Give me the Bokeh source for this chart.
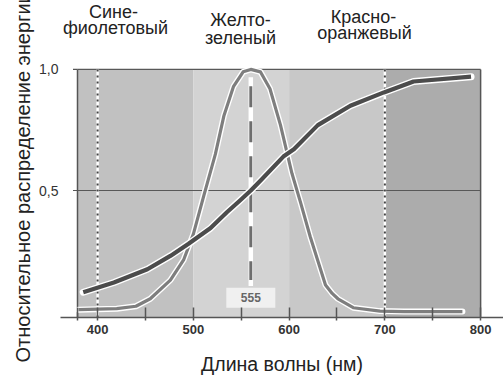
import math
from bokeh.plotting import figure
from bokeh.models import Label, FixedTicker, Range1d, CustomJSTickFormatter, Title
from bokeh.embed import file_html
from bokeh.resources import INLINE

# ---------------- data ----------------
# relative luminous efficiency (bell curve)
lum_wl = [380, 400, 420, 440, 455, 476, 490, 500, 511, 523, 532, 542, 552, 560,
          570, 580, 591, 603, 612, 622, 638, 645, 651, 667, 695, 720, 781]
lum_v = [0.008, 0.01, 0.012, 0.022, 0.053, 0.13, 0.215, 0.32, 0.48, 0.65, 0.81, 0.93, 0.99, 1.0,
         0.99, 0.92, 0.77, 0.57, 0.45, 0.31, 0.11, 0.075, 0.053, 0.016, 0.002, 0.0, 0.0]
# rising energy-distribution curve
cum_wl = [385, 417, 452, 476, 495, 518, 535, 549, 560, 570, 594, 605, 630, 664, 699, 730, 790]
cum_v = [0.08, 0.12, 0.175, 0.23, 0.28, 0.345, 0.41, 0.46, 0.50, 0.54, 0.64, 0.67, 0.77, 0.85,
         0.905, 0.95, 0.97]
# spectral bands
band_left = [379, 500, 600, 700]
band_right = [500, 600, 700, 800]
band_colors = ["#c1c1c1", "#d3d3d3", "#c8c8c8", "#acacac"]
# reference lines
dotted_wl = [400, 700]
peak_wl = 560
peak_label = "555"
x_ticks = [400, 500, 600, 700, 800]
x_minor = [379, 450, 550, 650, 750]
y_ticks = [0.5, 1.0]
region_names = [("Сине-", "фиолетовый"), ("Желто-", "зеленый"), ("Красно-", "оранжевый")]
x_title = "Длина волны (нм)"
y_title = "Относительное распределение энергии"

# ---------------- layout helpers (page pixels; the page has no margin) ----------------
W, H = 503, 377
KX = 0.9575                       # px per nm
AXIS_PX = 77                      # page x of the left axis rule
FL, FT, FW, FH = 60, 0, 443, 322  # frame in page pixels
X0 = band_left[0] - (AXIS_PX - FL) / KX
X1 = X0 + FW / KX
PX_PER_UNIT = 246.0
ZERO_PY = 316
Y0 = (ZERO_PY - (FT + FH)) / PX_PER_UNIT
Y1 = (ZERO_PY - FT) / PX_PER_UNIT
YTOP = 1.0


def px2x(px):
    return X0 + (px - FL) / KX


def py2y(py):
    return (ZERO_PY - py) / PX_PER_UNIT


FONT = "Liberation Sans"

p = figure(width=W, height=H, output_backend="svg", toolbar_location=None,
           x_range=Range1d(X0, X1), y_range=Range1d(Y0, Y1),
           min_border_left=FL, min_border_right=W - FL - FW,
           min_border_top=FT, min_border_bottom=H - FT - FH)
p.outline_line_color = None
p.background_fill_color = "white"
p.border_fill_color = "white"
p.xgrid.visible = False
p.ygrid.visible = False

# bands
p.quad(left=band_left, right=band_right, bottom=Y0, top=YTOP, fill_color=band_colors,
       line_color=None)

# horizontal reference lines at 0.5 and 1.0
ny = len(y_ticks)
p.segment(x0=[band_left[0]] * ny, y0=y_ticks, x1=[band_right[-1]] * ny, y1=y_ticks,
          line_color="#585858", line_width=1.2)
# y tick marks just left of the axis rule
p.segment(x0=[band_left[0] - 4.5 / KX] * ny, y0=y_ticks, x1=[band_left[0]] * ny, y1=y_ticks,
          line_color="#555555", line_width=1.2)

# left axis rule and right border
p.segment(x0=[band_left[0], band_right[-1]], y0=[Y0, Y0], x1=[band_left[0], band_right[-1]],
          y1=[YTOP, YTOP], line_color="#555555", line_width=1.5)

# dotted verticals
n = len(dotted_wl)
p.segment(x0=dotted_wl, y0=[Y0] * n, x1=dotted_wl, y1=[YTOP] * n, line_color="white", line_width=2.5)
p.segment(x0=dotted_wl, y0=[YTOP] * n, x1=dotted_wl, y1=[Y0] * n, line_color="#444444",
          line_width=2, line_dash="2 4")

# peak dashed line
p.segment(x0=[peak_wl], y0=[py2y(78)], x1=[peak_wl], y1=[py2y(290)], line_color="white", line_width=4.5)
p.segment(x0=[peak_wl], y0=[py2y(87)], x1=[peak_wl], y1=[py2y(284)], line_color="#6e6e6e",
          line_width=3, line_dash="21 14")

# curves
p.line(lum_wl, lum_v, line_color="white", line_width=6, line_join="round", line_cap="round")
p.line(lum_wl, lum_v, line_color="#7e7e7e", line_width=3.2, line_join="round")
p.line(cum_wl, cum_v, line_color="white", line_width=7, line_join="round", line_cap="round")
p.line(cum_wl, cum_v, line_color="#4c4c4c", line_width=4.2, line_join="round")

# 555 box
p.rect(x=[peak_wl], y=[py2y(302)], width=49, height=20, width_units="screen", height_units="screen",
       fill_color="#f0f0f0", line_color=None)
p.add_layout(Label(x=peak_wl, y=py2y(302), text=peak_label, text_font=FONT, text_font_size="12px",
                   text_font_style="bold", text_color="#666666", text_align="center",
                   text_baseline="middle"))

# region names at top (inside the frame, above the 1.0 line)
name_pos = [((113, 12), (115, 28)), ((240, 20), (240, 38)), ((363, 17), (364, 33))]
for (l1, l2), ((x1p, y1p), (x2p, y2p)) in zip(region_names, name_pos):
    for t, xp, yp in ((l1, x1p, y1p), (l2, x2p, y2p)):
        p.add_layout(Label(x=px2x(xp), y=py2y(yp), text=t, text_font=FONT, text_font_size="18px",
                           text_color="#222222", text_align="center", text_baseline="alphabetic"))

# axes
xa = p.xaxis[0]
xa.ticker = FixedTicker(ticks=x_ticks, minor_ticks=x_minor)
xa.axis_line_color = "#555555"
xa.axis_line_width = 1.5
xa.major_tick_line_color = "#555555"
xa.minor_tick_line_color = "#555555"
xa.major_tick_line_width = 1.5
xa.minor_tick_line_width = 1.5
xa.major_tick_in = 10
xa.major_tick_out = 3
xa.minor_tick_in = 10
xa.minor_tick_out = 3
xa.major_label_standoff = 4
xa.major_label_text_font = FONT
xa.major_label_text_font_size = "13px"
xa.major_label_text_font_style = "bold"
xa.major_label_text_color = "#333333"
xa.axis_label = x_title
xa.axis_label_text_font = FONT
xa.axis_label_text_font_size = "19.5px"
xa.axis_label_text_font_style = "normal"
xa.axis_label_text_color = "#222222"
xa.axis_label_standoff = 16

ya = p.yaxis[0]
ya.ticker = FixedTicker(ticks=y_ticks)
ya.formatter = CustomJSTickFormatter(code="return tick.toFixed(1).replace('.', ',');")
ya.axis_line_color = None
ya.major_tick_line_color = None
ya.minor_tick_line_color = None
ya.major_tick_in = 0
ya.major_tick_out = 0
ya.major_label_standoff = 2
ya.major_label_text_font = FONT
ya.major_label_text_font_size = "14px"
ya.major_label_text_color = "#333333"

# y title as a side title so that it can be shifted along the axis
p.add_layout(Title(text=y_title, align="left", offset=-45, standoff=6, text_font=FONT,
                   text_font_size="20px", text_font_style="normal", text_color="#222222"), "left")

open("out.html", "w").write(file_html(p, INLINE))
